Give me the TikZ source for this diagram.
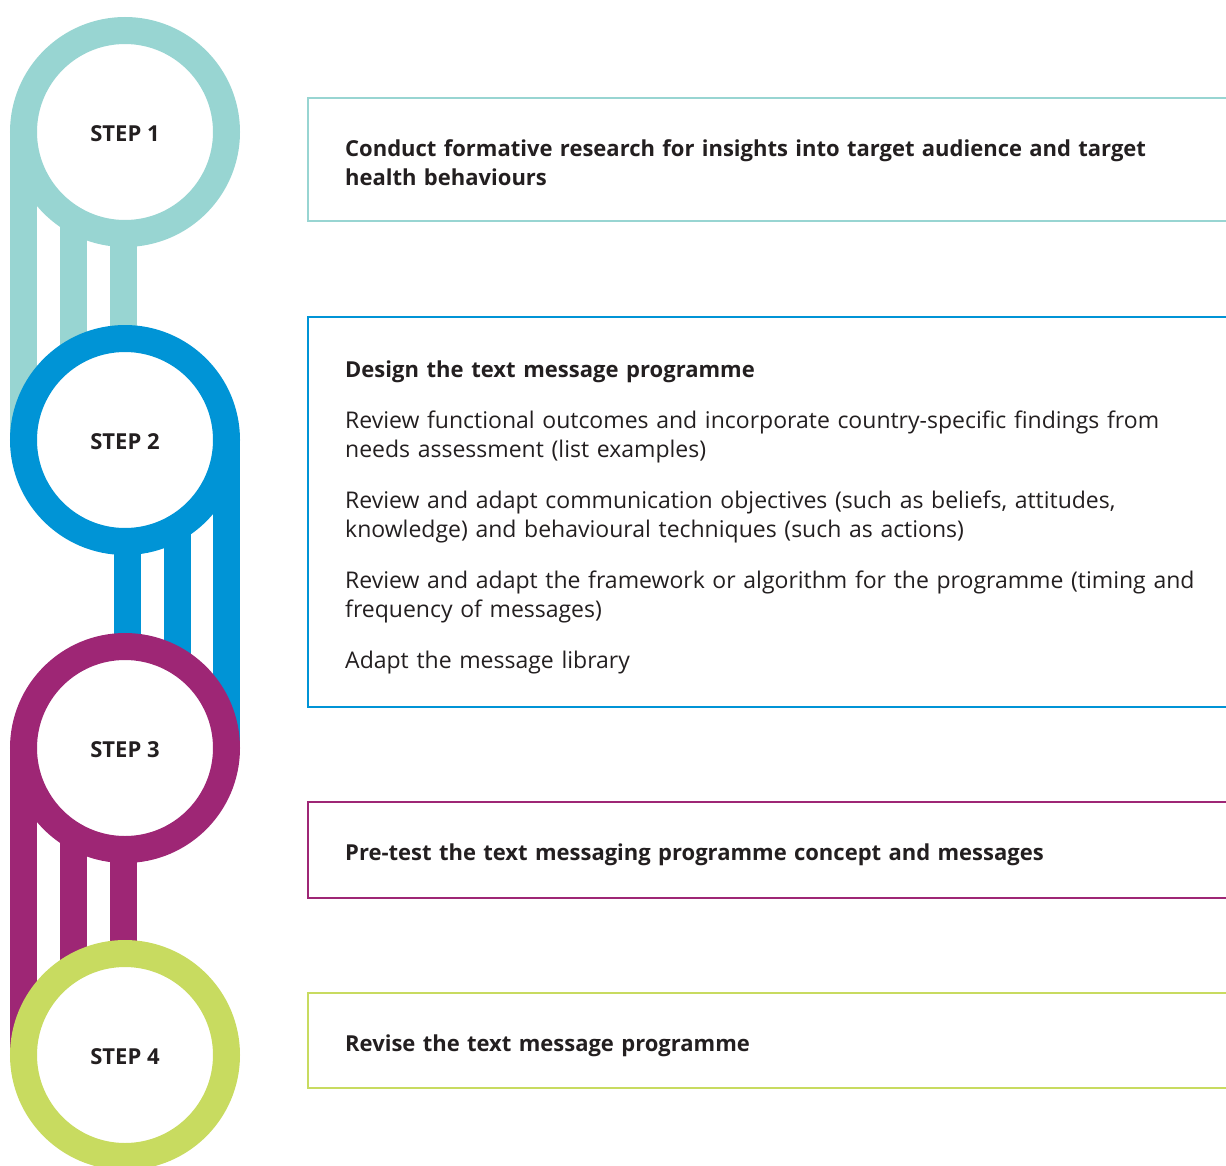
\documentclass[tikz,border=0pt]{standalone}
\usepackage{fontspec}
\setmainfont{Open Sans}
\usetikzlibrary{calc}
\definecolor{stepteal}{RGB}{152,213,210}
\definecolor{stepblue}{RGB}{0,148,214}
\definecolor{steppurple}{RGB}{158,38,117}
\definecolor{stepgreen}{RGB}{200,219,96}
\definecolor{inktext}{RGB}{35,31,32}
\tikzset{
	ring/.style={circle, draw=#1, line width=27pt, fill=white,
			minimum size=203pt, inner sep=0pt},
	steplabel/.style={text=inktext, yshift=-2pt,
			font=\bfseries\fontsize{22}{25}\selectfont},
	bar/.style={draw=#1, line width=27pt},
	stepbox/.style={draw=#1, line width=2pt, anchor=west, outer sep=0pt,
			minimum width=940pt},
	boxtext/.style={anchor=west, inner sep=0pt, text width=880pt,
			align=left, text=inktext, font=\fontsize{23}{29}\selectfont},
	boxhead/.style={boxtext, font=\bfseries\fontsize{22}{29}\selectfont}
}

\begin{document}
\begin{tikzpicture}[x=1pt, y=-1pt]
	\useasboundingbox (0,0) rectangle (1226,1165);
	\clip (0,0) rectangle (1226,1165);

	% step circles (drawn later, placed first)
	\path
		(125,132) coordinate (c1)
		(125,440) coordinate (c2)
		(125,748) coordinate (c3)
		(125,1055) coordinate (c4);

	% bars between the circles
	\foreach \dx in {-101.5,-51.5,-1.5}
		\draw[bar=stepteal] ([xshift=\dx pt]c1) -- ([xshift=\dx pt]c2);
	\foreach \dx in {2,52,101.5}
		\draw[bar=stepblue] ([xshift=\dx pt]c2) -- ([xshift=\dx pt]c3);
	\foreach \dx in {-101.5,-51.5,-1.5}
		\draw[bar=steppurple] ([xshift=\dx pt]c3) -- ([xshift=\dx pt]c4);

	\node[ring=stepteal] (s1) at (c1) {};
	\node[ring=stepblue] (s2) at (c2) {};
	\node[ring=steppurple] (s3) at (c3) {};
	\node[ring=stepgreen] (s4) at (c4) {};
	\foreach \i in {1,...,4}
		\node[steplabel] (t\i) at (s\i) {STEP \i};

	% text boxes
	\node[stepbox=stepteal, minimum height=123pt] (b1) at (308,159.5) {};
	\node[stepbox=stepblue, minimum height=390pt] (b2) at (308,512) {};
	\node[stepbox=steppurple, minimum height=96pt] (b3) at (308,850) {};
	\node[stepbox=stepgreen, minimum height=95pt] (b4) at (308,1040.5) {};

	\node[boxhead] (x1) at ([xshift=37pt, yshift=-3pt]b1.west)
		{Conduct formative research for insights into target audience and target\\
		health behaviours};
	\node[boxtext] (x2) at ([xshift=37pt, yshift=-5pt]b2.west) {%
		\setlength{\parskip}{22pt}%
		{\bfseries\fontsize{22}{29}\selectfont Design the text message programme\par}
		Review functional outcomes and incorporate country-specific findings from\\
		needs assessment (list examples)\par
		Review and adapt communication objectives (such as beliefs, attitudes,\\
		knowledge) and behavioural techniques (such as actions)\par
		Review and adapt the framework or algorithm for the programme (timing and\\
		frequency of messages)\par
		Adapt the message library};
	\node[boxhead] (x3) at ([xshift=37pt, yshift=-5pt]b3.west)
		{Pre-test the text messaging programme concept and messages};
	\node[boxhead] (x4) at ([xshift=37pt, yshift=-5pt]b4.west)
		{Revise the text message programme};
\end{tikzpicture}
\end{document}
